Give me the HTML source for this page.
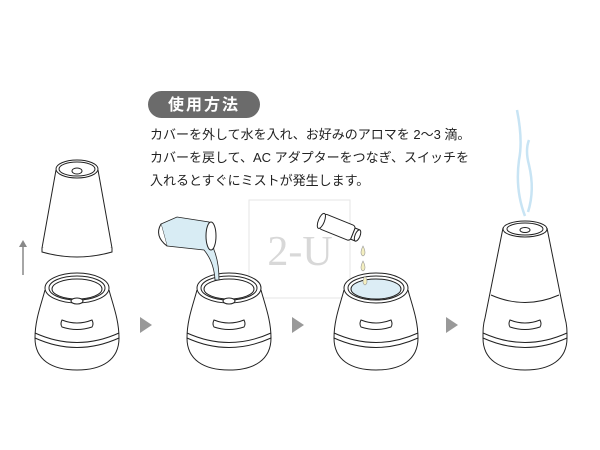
<!DOCTYPE html>
<html><head><meta charset="utf-8"><style>
html,body{margin:0;padding:0;background:#fff;width:600px;height:450px;overflow:hidden}
text{font-family:"Liberation Sans","Noto Sans CJK JP",sans-serif}
</style></head><body>
<svg width="600" height="450" viewBox="0 0 600 450" xmlns="http://www.w3.org/2000/svg">
<defs>
<g id="base">
  <path d="M-32,290 C-36,305 -42,320 -42,338 C-42,360 -25,370 0,370 C25,370 42,360 42,338 C42,320 36,305 32,290" fill="#fff" stroke="#222" stroke-width="1"/>
  <path d="M-42,333 Q0,352 42,333" fill="none" stroke="#222"/>
  <path d="M-42,338 Q0,357 42,338" fill="none" stroke="#222"/>
  <path d="M-15,320 Q0,326 15,320 Q17,324 15,327 Q0,332 -15,327 Q-17,324 -15,320Z" fill="#fff" stroke="#222"/>
</g>
<g id="ring">
  <ellipse cx="0" cy="288" rx="32" ry="15" fill="#fff" stroke="#222"/>
  <ellipse cx="0" cy="288" rx="28" ry="12" fill="#fff" stroke="#222"/>
  <ellipse cx="0" cy="289" rx="25" ry="10" fill="#fff" stroke="#222"/>
  <ellipse cx="0" cy="301" rx="6" ry="3" fill="#fff" stroke="#222"/>
</g>
</defs>

<rect x="148" y="91" width="112" height="27" rx="13.5" fill="#6b6b6b"/>
<text x="204" y="110" font-size="16" font-weight="bold" fill="#fff" text-anchor="middle" letter-spacing="2">使用方法</text>
<text x="150" y="139" font-size="13" fill="#222">カバーを外して水を入れ、お好みのアロマを 2〜3 滴。</text>
<text x="150" y="162" font-size="13" fill="#222">カバーを戻して、AC アダプターをつなぎ、スイッチを</text>
<text x="150" y="185" font-size="13" fill="#222">入れるとすぐにミストが発生します。</text>

<rect x="249" y="200" width="101" height="98" fill="none" stroke="#e6e6e6"/>
<text x="300" y="265" font-size="42" fill="#d8d8d8" text-anchor="middle" style="font-family:'Liberation Serif',serif">2-U</text>

<line x1="23" y1="245" x2="23" y2="275" stroke="#888" stroke-width="1.5"/>
<path d="M19,247 L23,240 L27,247Z" fill="#888"/>

<path d="M140,317 L152,325 L140,333Z" fill="#999"/>
<path d="M292,317 L304,325 L292,333Z" fill="#999"/>
<path d="M446,317 L458,325 L446,333Z" fill="#999"/>

<g transform="translate(77,0)">
  <use href="#base"/><use href="#ring"/>
  <path d="M-21,170 L-35,248 Q0,260 35,248 L21,170" fill="#fff" stroke="#222"/>
  <path d="M-35,248 L-35,252 Q0,262 35,252 L35,248" fill="#fff" stroke="#222"/>
  <ellipse cx="0" cy="169" rx="21" ry="9" fill="#fff" stroke="#222"/>
  <ellipse cx="0" cy="169" rx="18" ry="7" fill="#fff" stroke="#222"/>
  <ellipse cx="0" cy="171" rx="5" ry="3" fill="#fff" stroke="#222"/>
</g>

<g transform="translate(229,0)">
  <use href="#base"/><use href="#ring"/>
  <path d="M-68,224 L-52,217 L-20,222 L-15,250 Q-10,262 -10,280 L-14,280 Q-15,262 -25,250 L-62,246 Z" fill="#d8ecf4" stroke="#222" stroke-width="0.8"/>
  <path d="M-68,224 Q-75,236 -62,246" fill="#fff" stroke="#222"/>
  <ellipse cx="-18" cy="236" rx="5" ry="14" fill="#fff" stroke="#222"/>
</g>

<g transform="translate(376,0)">
  <use href="#base"/>
  <ellipse cx="0" cy="288" rx="32" ry="15" fill="#fff" stroke="#222"/>
  <ellipse cx="0" cy="288" rx="28" ry="12" fill="#fff" stroke="#222"/>
  <ellipse cx="0" cy="289" rx="25" ry="10" fill="#dcedf5" stroke="#222"/>
  <g transform="rotate(22 -37 228)">
    <rect x="-56" y="220" width="34" height="16" rx="3" fill="#fff" stroke="#222"/>
    <ellipse cx="-56" cy="228" rx="3" ry="8" fill="#fff" stroke="#222"/>
    <rect x="-22" y="222" width="5" height="12" fill="#fff" stroke="#222"/>
    <ellipse cx="-17" cy="228" rx="2.5" ry="6" fill="#fff" stroke="#222"/>
  </g>
  <path d="M-13,246 Q-9,254 -13,256 Q-17,254 -13,246Z" fill="#f4efc0" stroke="#999" stroke-width="0.6"/>
  <path d="M-13,261 Q-9,269 -13,271 Q-17,269 -13,261Z" fill="#f4efc0" stroke="#999" stroke-width="0.6"/>
  <path d="M-11,276 Q-7,283 -11,285 Q-15,283 -11,276Z" fill="#f4efc0" stroke="#999" stroke-width="0.6"/>
</g>

<g transform="translate(525,0)">
  <path d="M-22,228 L-40,318 C-42,325 -42,330 -42,338 C-42,360 -25,370 0,370 C25,370 42,360 42,338 C42,330 42,325 40,318 L22,228" fill="#fff" stroke="#222"/>
  <path d="M-34,295 Q0,310 34,295" fill="none" stroke="#222"/>
  <path d="M-42,333 Q0,352 42,333" fill="none" stroke="#222"/>
  <path d="M-42,338 Q0,357 42,338" fill="none" stroke="#222"/>
  <path d="M-15,320 Q0,326 15,320 Q17,324 15,327 Q0,332 -15,327 Q-17,324 -15,320Z" fill="#fff" stroke="#222"/>
  <ellipse cx="0" cy="229" rx="22" ry="8" fill="#fff" stroke="#222"/>
  <ellipse cx="0" cy="229" rx="18" ry="6" fill="#fff" stroke="#222"/>
  <ellipse cx="0" cy="230" rx="5" ry="2.5" fill="#fff" stroke="#222"/>
  <path d="M0,216 Q-10,190 -6,160 Q-2,140 -8,110" fill="none" stroke="#c8e4f4" stroke-width="2.5"/>
  <path d="M3,212 Q10,190 4,165 Q0,150 4,140" fill="none" stroke="#c8e4f4" stroke-width="2.5"/>
</g>
</svg>
</body></html>
